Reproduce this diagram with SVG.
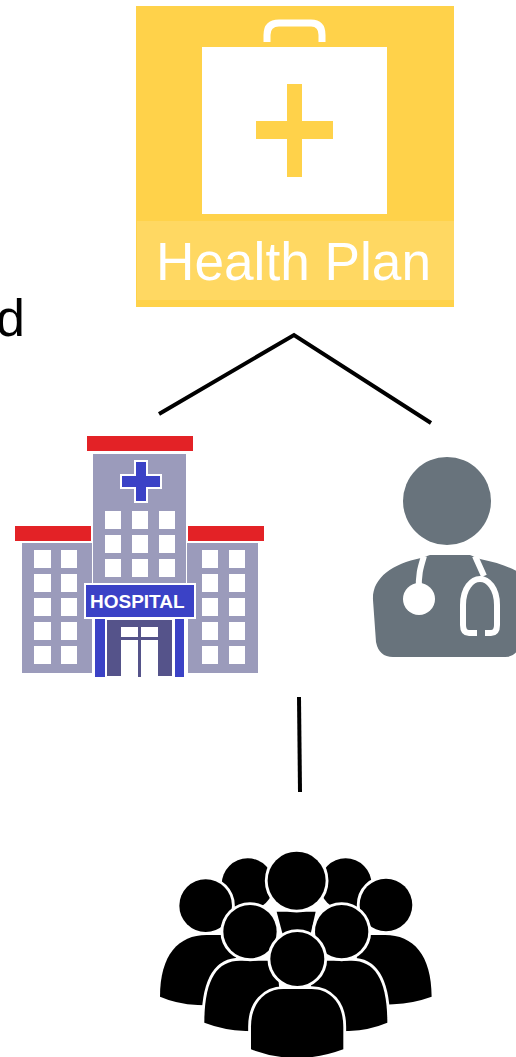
<svg xmlns="http://www.w3.org/2000/svg" width="516" height="1057" viewBox="0 0 516 1057">
<style>
.line{fill:none;stroke:#000;stroke-width:4}
.wing{fill:#9b9bbb}
.red{fill:#e32028}
.win{fill:#fff}
.blue{fill:#3a43c6}
.p{fill:#000;stroke:#fff;stroke-width:17;paint-order:stroke}
.txt{font-family:"Liberation Sans",Arial,sans-serif}
</style>
<defs><filter id="soft" x="-5%" y="-5%" width="110%" height="110%"><feGaussianBlur stdDeviation="0.6"/></filter></defs>
<rect width="516" height="1057" fill="#fff"/>
<text class="txt" x="-4" y="336" font-size="52" fill="#000">d</text>
<g id="health-plan">
<rect x="136" y="6" width="318" height="301" fill="#ffd24a"/>
<rect x="137" y="221" width="317" height="79" fill="#ffd862"/>
<rect x="202" y="47" width="185" height="167" fill="#fff"/>
<path d="M267 42V35Q267 23 279 23H311Q322 23 322 35V42" fill="none" stroke="#fff" stroke-width="7"/>
<rect x="287" y="84" width="15" height="93" fill="#ffd24a"/>
<rect x="256" y="121" width="77" height="18" fill="#ffd24a"/>
<text class="txt" x="156" y="280" font-size="53.2" fill="#fff">Health Plan</text>
</g>
<g id="connectors">
<path class="line" d="M159 414L294 335L431 423"/>
<path class="line" d="M299 697L300 792"/>
</g>
<g id="hospital">
<g filter="url(#soft)">
<rect class="red" x="87" y="436" width="106" height="15"/>
<rect class="red" x="15" y="526" width="76" height="15"/>
<rect class="red" x="188" y="526" width="76" height="15"/>
<rect class="wing" x="93" y="454" width="93" height="135"/>
<rect class="wing" x="22" y="543" width="70" height="130"/>
<rect class="wing" x="187" y="543" width="71" height="130"/>
<path class="blue" stroke="#fff" stroke-width="2" d="M135 461H147V475H161V488H147V502H135V488H121V475H135Z"/>
<path class="win" d="M105 511h16v18h-16zM132 511h16v18h-16zM159 511h16v18h-16zM105 535h16v18h-16zM132 535h16v18h-16zM159 535h16v18h-16zM105 559h16v18h-16zM132 559h16v18h-16zM159 559h16v18h-16z"/>
<path class="win" d="M34 550h17v18h-17zM61 550h16v18h-16zM34 574h17v18h-17zM61 574h16v18h-16zM34 598h17v18h-17zM61 598h16v18h-16zM34 622h17v18h-17zM61 622h16v18h-16zM34 646h17v18h-17zM61 646h16v18h-16z"/>
<path class="win" d="M202 550h16v18h-16zM229 550h16v18h-16zM202 574h16v18h-16zM229 574h16v18h-16zM202 598h16v18h-16zM229 598h16v18h-16zM202 622h16v18h-16zM229 622h16v18h-16zM202 646h16v18h-16zM229 646h16v18h-16z"/>
<rect x="92" y="618" width="96" height="60" fill="#fff"/>
<rect x="107" y="620" width="65" height="56" fill="#55528a"/>
<rect x="121" y="627" width="37" height="10" fill="#fff"/>
<rect x="121" y="640" width="37" height="37" fill="#fff"/>
<rect x="138" y="627" width="3" height="50" fill="#55528a"/>
<rect class="blue" x="95" y="619" width="10" height="58"/>
<rect class="blue" x="175" y="619" width="9" height="58"/>
<rect class="blue" x="85" y="584" width="110" height="34" stroke="#fff" stroke-width="2"/>
</g>
<text class="txt" x="90" y="608" font-size="19" font-weight="700" fill="#fff">HOSPITAL</text>
</g>
<g id="doctor" filter="url(#soft)">
<circle cx="447" cy="501" r="44" fill="#67737b"/>
<path d="M373 600C372 578 392 564 421 558L430 555H470L480 559C495 562 508 566 520 573V645Q516 657 505 657H393Q379 657 376 642Z" fill="#67737b"/>
<path d="M424 556C421 566 418 574 419 590" fill="none" stroke="#fff" stroke-width="6"/>
<circle cx="419" cy="599" r="16" fill="#fff"/>
<path d="M475 556L484 576M477 633H469Q463 633 463 625V605C463 588 472 579 480 579C488 579 497 588 497 605V625Q497 633 491 633H485" fill="none" stroke="#fff" stroke-width="6"/>
</g>
<g id="people" transform="translate(150 840) scale(.3333)">
<circle class="p" cx="293" cy="133" r="78"/>
<circle class="p" cx="587" cy="133" r="78"/>
<path class="p" d="M380 215H497L480 290H400Z"/>
<circle class="p" cx="440" cy="122" r="87"/>
<circle class="p" cx="167" cy="197" r="79"/>
<circle class="p" cx="708" cy="195" r="79"/>
<path class="p" d="M30 470C30 345 85 285 170 285H240L300 500L143 495Q80 492 30 470Z"/>
<path class="p" d="M845 470C845 345 790 285 705 285H630L600 500L730 493Q790 490 845 470Z"/>
<path class="p" d="M163 548C163 420 200 362 270 362H380L400 575L287 573Q220 570 163 548Z"/>
<path class="p" d="M712 548C712 420 675 362 605 362H490L470 575L597 573Q660 570 712 548Z"/>
<circle class="p" cx="300" cy="275" r="80"/>
<circle class="p" cx="575" cy="275" r="80"/>
<path class="p" d="M303 628V560C303 490 345 447 400 447H485C540 447 580 490 580 560V628Q440 680 303 628Z"/>
<circle class="p" cx="442" cy="357" r="81"/>
</g>
</svg>
